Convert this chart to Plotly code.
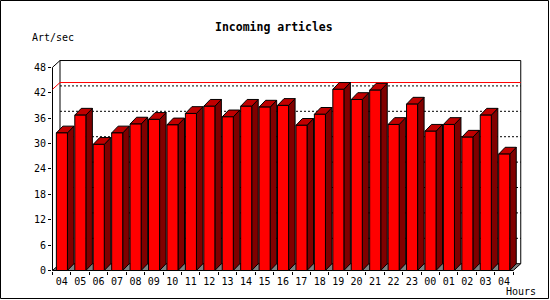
import plotly.graph_objects as go

# ---------------- data ----------------
hours = ["04", "05", "06", "07", "08", "09", "10", "11", "12", "13", "14", "15", "16",
         "17", "18", "19", "20", "21", "22", "23", "00", "01", "02", "03", "04"]
art_per_sec = [32.5, 36.7, 29.8, 32.5, 34.6, 35.7, 34.4, 37.1, 38.8, 36.3, 38.8, 38.6, 39.0,
               34.3, 36.9, 42.8, 40.4, 42.6, 34.5, 39.3, 32.9, 34.5, 31.5, 36.7, 27.5]
y_ticks = [0, 6, 12, 18, 24, 30, 36, 42, 48]
y_max = 48

# ---------------- geometry (pixels) ----------------
W, H = 550, 300
X0, SX = 52.5, 18.43      # pixel of x=0, pixels per category
Y0, SY = 270.5, 4.233     # pixel of y=0, pixels per unit
L, R, T, B = 52, 522, 60, 271
n = len(hours)

DXW, DYW = 7.5 / SX, 6.8 / SY   # wall depth in data units
DXB, DYB = 6.5 / SX, 6.8 / SY   # bar depth in data units
A, Bw = 0.21, 0.81              # bar front face inside category

xr = [(L - X0) / SX, (R - X0) / SX]
yr = [(Y0 - B) / SY, (Y0 - T) / SY]

RED, TOP, SIDE, GRAY = "#ff0000", "#c00000", "#800000", "#808080"
FONT = "DejaVu Sans Mono"

fig = go.Figure()

def poly(xs, ys, fill, line="black", width=1, dash=None):
    fig.add_trace(go.Scatter(x=xs, y=ys, mode="lines", fill="toself" if fill else None,
                             fillcolor=fill, line=dict(color=line, width=width, dash=dash),
                             hoverinfo="skip", showlegend=False))

# floor
poly([0, n, n + DXW, DXW, 0], [0, 0, DYW, DYW, 0], GRAY)

# back wall dotted gridlines
gx, gy = [], []
for v in y_ticks[1:-1]:
    gx += [DXW, n + DXW, None]
    gy += [v + DYW, v + DYW, None]
poly(gx, gy, None, dash="2px,2px")

# back wall outline + front axis
poly([DXW, DXW, n + DXW, n + DXW], [DYW, y_max + DYW, y_max + DYW, DYW], None)
poly([0, 0, DXW], [0, y_max, y_max + DYW], None)

# max line
m = max(art_per_sec)
poly([0, DXW, n + DXW], [m, m + DYW, m + DYW], None, line=RED)

# bars
fx, fy, tx, ty, sx, sy = [], [], [], [], [], []
for k, v in enumerate(art_per_sec):
    a, b = k + A, k + Bw
    fx += [a, b, b, a, a, None]
    fy += [0, 0, v, v, 0, None]
    tx += [a, b, b + DXB, a + DXB, a, None]
    ty += [v, v, v + DYB, v + DYB, v, None]
    sx += [b, b + DXB, b + DXB, b, b, None]
    sy += [0, DYB, v + DYB, v, 0, None]
poly(sx, sy, SIDE)
poly(tx, ty, TOP)
poly(fx, fy, RED)

def px(x):
    return (x - L) / (R - L)

def py(y):
    return (B - y) / (B - T)

fig.update_layout(
    width=W, height=H,
    margin=dict(l=L, r=W - R, t=T, b=H - B, pad=0),
    paper_bgcolor="white", plot_bgcolor="white",
    hovermode=False, showlegend=False,
    xaxis=dict(range=xr, showgrid=False, zeroline=False, showline=False,
               tickmode="array", tickvals=[k + 0.5 for k in range(n)], ticktext=hours,
               ticks="", ticklabelstandoff=3,
               tickfont=dict(family=FONT, size=10, color="black"),
               minor=dict(tickmode="array", tickvals=list(range(n + 1)), ticks="outside",
                          ticklen=3, tickcolor="black", tickwidth=1, showgrid=False)),
    yaxis=dict(range=yr, showgrid=False, zeroline=False, showline=False,
               tickmode="array", tickvals=y_ticks, ticks="outside", ticklen=3,
               tickcolor="black", tickwidth=1,
               tickfont=dict(family=FONT, size=10, color="black")),
    annotations=[
        dict(text="<b>Incoming articles</b>", x=px(274), y=py(27), xref="paper", yref="paper",
             xanchor="center", yanchor="middle", showarrow=False,
             font=dict(family=FONT, size=11.5, color="black")),
        dict(text="Art/sec", x=px(30), y=py(37), xref="paper", yref="paper",
             xanchor="left", yanchor="middle", showarrow=False,
             font=dict(family=FONT, size=10, color="black")),
        dict(text="Hours", x=px(504), y=py(291.5), xref="paper", yref="paper",
             xanchor="left", yanchor="middle", showarrow=False,
             font=dict(family=FONT, size=10, color="black")),
    ],
    shapes=[dict(type="rect", xref="paper", yref="paper",
                 x0=px(0.5), x1=px(548.5), y0=py(0.5), y1=py(298.5),
                 line=dict(color="black", width=1), fillcolor="rgba(0,0,0,0)", layer="above")],
)

fig.write_html("out.html")
